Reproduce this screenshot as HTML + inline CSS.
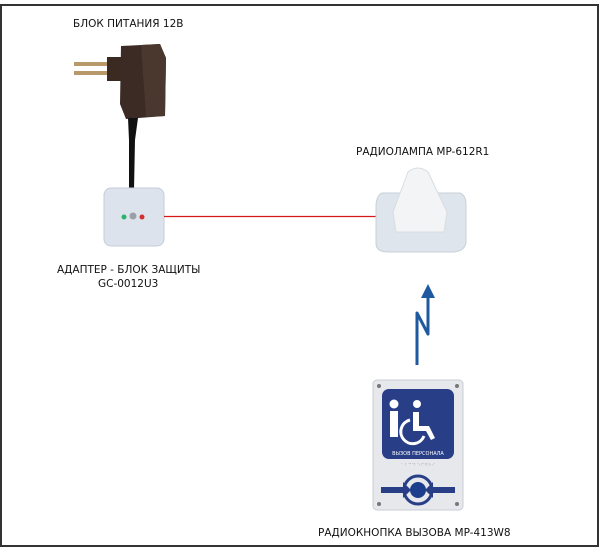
<!DOCTYPE html>
<html><head><meta charset="utf-8"><style>
html,body{margin:0;padding:0;background:#fff}
body{width:600px;height:552px;position:relative;overflow:hidden;font-family:"DejaVu Sans","Liberation Sans",sans-serif;font-size:10.5px;color:#111}
.t{position:absolute;white-space:nowrap}
</style></head><body>
<svg width="600" height="552" style="position:absolute;left:0;top:0">
<rect x="1" y="5" width="597" height="541" fill="none" stroke="#333" stroke-width="2"/>
<!-- plug -->
<rect x="74" y="62" width="44" height="4" fill="#b89a6a"/>
<rect x="74" y="71" width="44" height="4" fill="#b89a6a"/>
<rect x="107" y="57" width="14" height="24" fill="#3a2a22"/>
<path d="M121 46 L160 44 L166 58 L165 116 L126 119 L120 104 Z" fill="#3b2b24"/>
<path d="M141 45 L160 44 L166 58 L165 116 L146 117 Z" fill="#4a372d"/>
<path d="M128 118 L138 118 L135 140 L134 190 L129 190 L129 140 Z" fill="#111"/>
<!-- adapter -->
<rect x="104" y="188" width="60" height="58" rx="7" fill="#dde3ec" stroke="#c5ccd8"/>
<circle cx="124" cy="217" r="2.5" fill="#2ab46a"/>
<circle cx="133" cy="216" r="3.5" fill="#9aa0a8"/>
<circle cx="142" cy="217" r="2.5" fill="#d23030"/>
<line x1="164" y1="216.5" x2="378" y2="216.5" stroke="#d71818" stroke-width="1.3"/>
<!-- lamp -->
<path d="M382 193 L460 193 Q466 195 466 205 L466 243 Q464 252 452 252 L388 252 Q376 252 376 243 L376 205 Q377 195 382 193Z" fill="#dfe5ec" stroke="#c8d0d8"/>
<path d="M408 172 Q418 164 428 172 L447 212 L444 232 L396 232 L393 212 Z" fill="#f3f4f5" stroke="#d9dde1"/>
<!-- zigzag arrow -->
<polyline points="417,365 417,313 428,334 428,296" fill="none" stroke="#1f5aa0" stroke-width="3" stroke-linejoin="round"/>
<polygon points="428,284 435,298 421,298" fill="#1f5aa0"/>
<!-- button panel -->
<rect x="373" y="380" width="90" height="130" rx="4" fill="#e6e8ec" stroke="#c8ccd3"/>
<rect x="382" y="389" width="72" height="70" rx="7" fill="#283f87"/>
<circle cx="394" cy="404" r="4.5" fill="#fff"/>
<path d="M390 411 h8 v26 h-8z" fill="#fff"/>
<circle cx="417" cy="404" r="4" fill="#fff"/>
<path d="M413 412 h6 v14 h10 l6 12 -4 2 -5 -9 h-13z" fill="#fff"/>
<path d="M410 420 a12 12 0 1 0 14 16" fill="none" stroke="#fff" stroke-width="3"/>
<text x="418" y="455" font-size="5" fill="#fff" text-anchor="middle" font-family="DejaVu Sans">ВЫЗОВ ПЕРСОНАЛА</text>
<text x="418" y="467" font-size="5" fill="#aaa" text-anchor="middle">⠁⠃⠉⠙ ⠑⠋⠛⠓⠊</text>
<circle cx="418" cy="490" r="14" fill="none" stroke="#283f87" stroke-width="3"/>
<circle cx="418" cy="490" r="8" fill="#1d3e8c"/>
<rect x="381" y="487" width="24" height="6" fill="#283f87"/>
<polygon points="403,482 411,490 403,498" fill="#283f87"/>
<rect x="431" y="487" width="24" height="6" fill="#283f87"/>
<polygon points="433,482 425,490 433,498" fill="#283f87"/>
<circle cx="379" cy="386" r="2" fill="#777"/><circle cx="457" cy="386" r="2" fill="#777"/>
<circle cx="379" cy="504" r="2" fill="#777"/><circle cx="457" cy="504" r="2" fill="#777"/>
</svg>
<div class="t" style="left:73px;top:18px">БЛОК ПИТАНИЯ 12В</div>
<div class="t" style="left:356px;top:146px">РАДИОЛАМПА MP-612R1</div>
<div class="t" style="left:57px;top:264px">АДАПТЕР - БЛОК ЗАЩИТЫ</div>
<div class="t" style="left:98px;top:278px">GC-0012U3</div>
<div class="t" style="left:318px;top:527px">РАДИОКНОПКА ВЫЗОВА MP-413W8</div>
</body></html>
